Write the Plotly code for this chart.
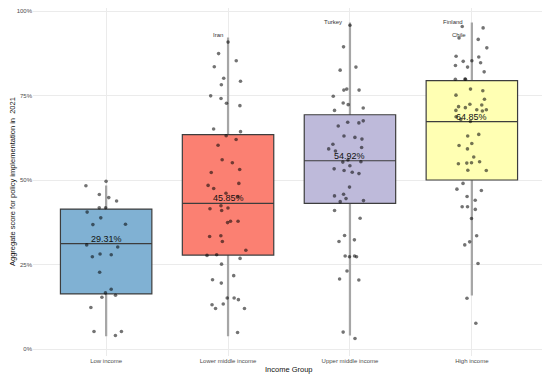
import plotly.graph_objects as go

# ---------------- data ----------------
groups = ["Low income", "Lower middle income", "Upper middle income", "High income"]
colors = ["#80B1D3", "#FB8072", "#BEBADA", "#FFFFB3"]

# box statistics (percent)
q1 = [16.3, 27.8, 43.1, 50.0]
medians = [31.2, 43.1, 55.7, 67.3]
q3 = [41.4, 63.4, 69.3, 79.4]
lower_whisker = [4.1, 4.1, 4.3, 16.1]
upper_whisker = [48.1, 91.9, 96.3, 96.3]
means = [29.31, 45.85, 54.92, 64.85]

# country scores (percent), as plotted
low_income = [49.6, 48.3, 45.7, 44.8, 43.8, 41.8, 41.8, 40.5, 38.8, 36.9, 36.8,
              30.8, 30.2, 28.1, 27.9, 27.3, 22.7, 17.7, 16.6, 15.9, 15.3, 12.3,
              5.2, 5.2, 4.0]
lower_middle = [90.8, 87.4, 85.3, 83.5, 80.1, 79.2, 78.2, 74.9, 74.1, 72.7, 72.0,
                65.1, 64.3, 63.1, 62.0, 60.3, 56.0, 55.1, 53.1, 52.2, 49.0, 48.4,
                47.5, 46.1, 45.1, 42.4, 41.7, 41.0, 41.5, 37.8, 37.8, 37.4, 33.5,
                33.3, 31.8, 29.2, 27.9, 27.7, 26.8, 25.1, 21.7, 20.5, 19.5, 15.1,
                15.1, 14.6, 13.3, 13.1, 12.0, 12.0, 4.9]
upper_middle = [95.8, 89.4, 83.4, 82.5, 76.9, 76.6, 76.6, 74.8, 72.8, 72.3, 71.3,
                70.6, 67.5, 66.9, 67.1, 66.0, 63.0, 62.6, 62.1, 60.6, 59.6, 59.2,
                58.6, 55.9, 55.3, 55.4, 54.2, 53.3, 52.8, 51.9, 52.3, 47.9, 45.8,
                45.3, 44.5, 43.9, 43.6, 41.0, 38.7, 33.6, 32.3, 31.8, 27.5, 27.3,
                27.3, 27.5, 23.1, 20.4, 20.7, 5.0, 3.1]
high_income = [95.4, 95.0, 92.0, 91.6, 89.1, 86.6, 85.3, 85.1, 86.4, 84.7, 83.4,
               83.9, 82.0, 79.8, 79.8, 79.9, 76.4, 76.9, 75.1, 73.9, 72.4, 72.2,
               71.7, 71.4, 70.6, 70.8, 70.4, 70.8, 68.7, 67.9, 67.3, 63.5, 63.0,
               60.2, 60.8, 59.2, 56.8, 55.1, 55.4, 55.0, 54.8, 52.8, 52.9, 49.0,
               47.3, 46.9, 45.1, 44.0, 42.1, 42.1, 41.3, 38.6, 33.5, 31.7, 30.8,
               25.3, 15.0, 7.6]
scores = [low_income, lower_middle, upper_middle, high_income]

# labelled countries
label_names = ["Iran", "Turkey", "Finland", "Chile"]
label_groups = ["Lower middle income", "Upper middle income", "High income", "High income"]
label_values = [90.8, 95.8, 95.4, 92.0]

y_ticks = [0, 25, 50, 75, 100]
y_tick_labels = ["0%", "25%", "50%", "75%", "100%"]

# ---------------- figure ----------------
fig = go.Figure()

# whiskers: a hairline-wide box spanning whisker ends (drawn beneath everything)
for i, g in enumerate(groups):
    fig.add_trace(go.Box(
        x=[g], q1=[lower_whisker[i]], median=[lower_whisker[i]], q3=[upper_whisker[i]],
        lowerfence=[lower_whisker[i]], upperfence=[upper_whisker[i]],
        width=0.002, whiskerwidth=0,
        fillcolor="rgba(0,0,0,0)", line=dict(color="#a6a6a6", width=2),
        boxpoints=False, hoverinfo="skip", showlegend=False,
    ))

for i, g in enumerate(groups):
    # box
    fig.add_trace(go.Box(
        x=[g], q1=[q1[i]], median=[medians[i]], q3=[q3[i]],
        lowerfence=[q1[i]], upperfence=[q3[i]],
        width=0.75, whiskerwidth=0,
        fillcolor=colors[i], line=dict(color="#3d3d3d", width=1.2),
        boxpoints=False, hoverinfo="skip", showlegend=False,
    ))

for i, g in enumerate(groups):
    # jittered points
    fig.add_trace(go.Box(
        x=[g] * len(scores[i]), y=scores[i],
        width=0.4, boxpoints="all", jitter=1, pointpos=0,
        fillcolor="rgba(0,0,0,0)", line=dict(color="rgba(0,0,0,0)", width=0),
        whiskerwidth=0,
        marker=dict(size=3.6, color="rgba(0,0,0,0.55)"),
        hoverinfo="skip", showlegend=False,
    ))

# mean labels at the median line
for i, g in enumerate(groups):
    fig.add_annotation(
        x=g, y=medians[i], text=f"{means[i]:.2f}%", showarrow=False,
        yanchor="middle", yshift=5,
        font=dict(size=9, color="#111111"),
    )

# country labels
label_shift = {"Iran": (-10, 7), "Turkey": (-17, 3), "Finland": (-19, 5), "Chile": (-13, 3)}
for name, g, v in zip(label_names, label_groups, label_values):
    dx, dy = label_shift[name]
    fig.add_annotation(
        x=g, y=v, text=name, showarrow=False, xshift=dx, yshift=dy,
        font=dict(size=6, color="#333333"),
    )

# axis titles
fig.add_annotation(
    xref="paper", yref="paper", x=0.5, y=0, yshift=-13, text="Income Group",
    showarrow=False, yanchor="middle", font=dict(size=7.5, color="#111111"),
)
fig.add_annotation(
    xref="paper", yref="paper", x=0, y=0.5, xshift=-21, textangle=-90,
    text="Aggregate score for policy implementation in  2021",
    showarrow=False, xanchor="center", font=dict(size=7.5, color="#111111"),
)

# page body adds an 8px offset, so the figure is 8px smaller on each axis
fig.update_layout(
    width=542, height=369,
    margin=dict(l=25, r=5, t=0, b=21),
    paper_bgcolor="white", plot_bgcolor="white",
    font=dict(family="Liberation Sans, Arial, sans-serif"),
    boxmode="overlay",
    showlegend=False,
)
fig.update_xaxes(
    type="category", categoryorder="array", categoryarray=groups,
    range=[-0.6, 3.6], showgrid=True, gridcolor="#ebebeb", gridwidth=1,
    zeroline=False, showline=False, ticks="", automargin=False,
    tickfont=dict(size=6, color="#4d4d4d"),
)
fig.update_yaxes(
    range=[-2.07, 100.89], tickmode="array", tickvals=y_ticks, ticktext=y_tick_labels,
    showgrid=True, gridcolor="#ebebeb", gridwidth=1,
    zeroline=False, showline=False, ticks="", automargin=False,
    tickfont=dict(size=6, color="#4d4d4d"),
)

fig.write_html("out.html")
